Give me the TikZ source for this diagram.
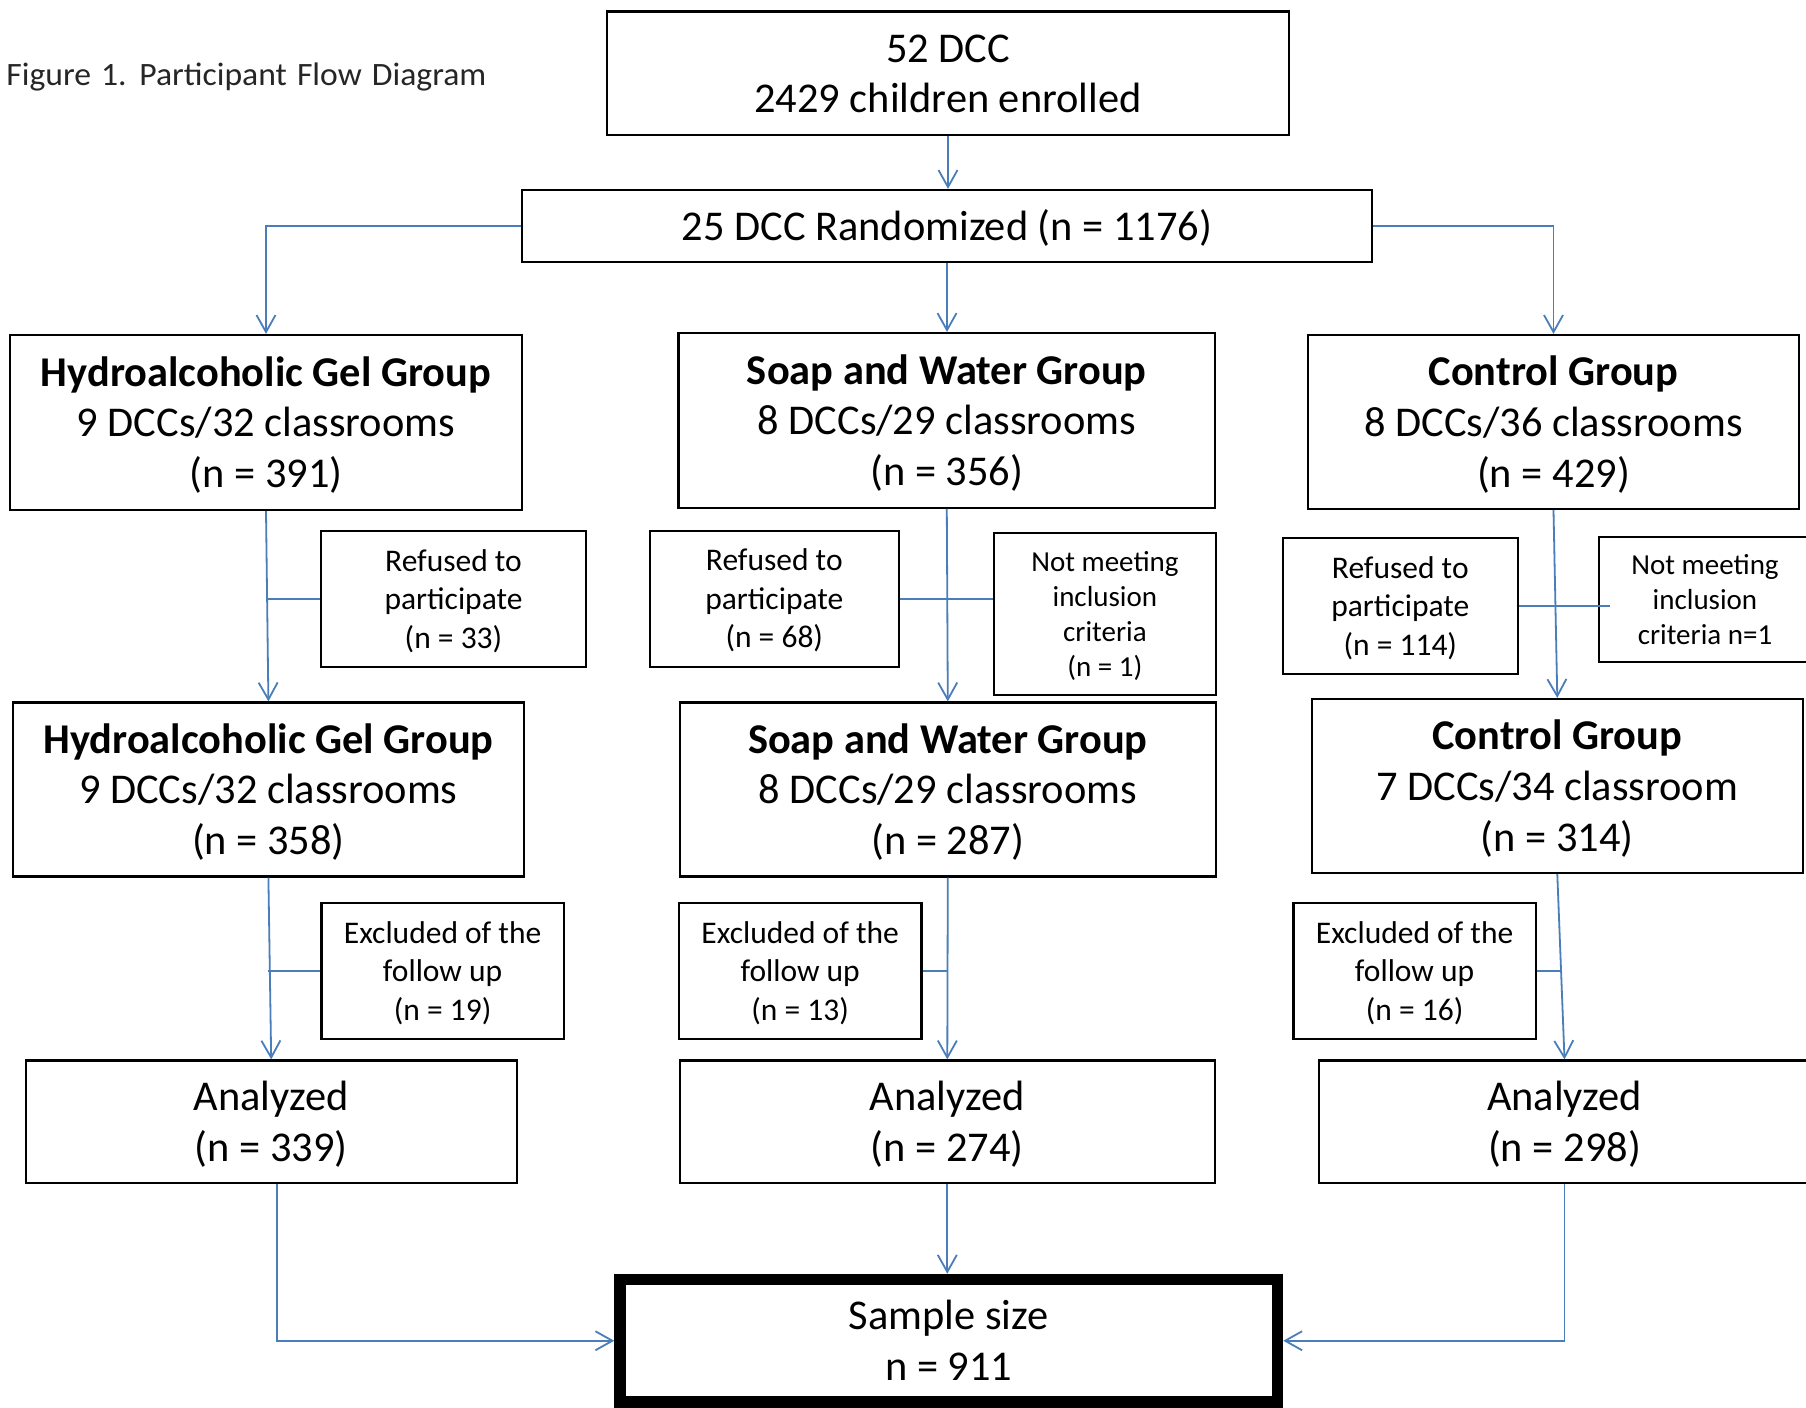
\documentclass[tikz,border=0pt]{standalone}
\usepackage{fontspec}
\setmainfont{Carlito}
\usetikzlibrary{arrows.meta,calc}
\definecolor{lineblue}{HTML}{4A7EBB}
\newcommand\mainf{\fontsize{21.2pt}{25.4pt}\selectfont}
\newcommand\sidef{\fontsize{15.75pt}{19.25pt}\selectfont}
\newcommand\nmf{\fontsize{14.5pt}{17.5pt}\selectfont}
\newcommand\titf{\fontsize{16.3pt}{19pt}\selectfont}
\newcommand\tst{\rule{0pt}{0.952em}}
\newcommand\bst{\rule[-0.269em]{0pt}{0.269em}}
\begin{document}
\begin{tikzpicture}[x=0.5pt,y=-0.5pt,
  box/.style={draw=black,line width=1.1pt,inner sep=0pt,align=center,font=\mainf},
  sidebox/.style={box,font=\sidef},
  nmbox/.style={box,font=\nmf},
  conn/.style={draw=lineblue,line width=0.9pt},
  arr/.style={conn,-{Straight Barb[length=8.5pt,width=9.5pt]}}]
\useasboundingbox (0,0) rectangle (1806,1408);
\clip (0,0) rectangle (1806,1408);
\fill[white] (0,0) rectangle (1806,1408);

\node[anchor=base west,inner sep=0pt,font=\titf,text=black!85] (title) at (6,85) {\resizebox{240pt}{\height}{\spaceskip=0.3em Figure 1. Participant Flow Diagram}};

\node[box,minimum width=341pt,minimum height=61.6pt] (top) at (948,73) {\tst 52 DCC\\2429 children enrolled\bst};
\node[box,minimum width=425pt,minimum height=36pt] (rand) at (947,226) {\tst 25 DCC Randomized (n = 1176)\bst};

\node[box,minimum width=256pt,minimum height=87.5pt] (hyd1) at (266,422.5) {\tst\textbf{Hydroalcoholic Gel Group}\\9 DCCs/32 classrooms\\(n = 391)\bst};
\node[box,minimum width=268.25pt,minimum height=87.35pt] (soap1) at (946.8,420.4) {\tst\textbf{Soap and Water Group}\\8 DCCs/29 classrooms\\(n = 356)\bst};
\node[box,minimum width=245.5pt,minimum height=87pt] (ctl1) at (1553.5,422) {\tst\textbf{Control Group}\\8 DCCs/36 classrooms\\(n = 429)\bst};

\node[sidebox,minimum width=132.5pt,minimum height=68pt] (ref1) at (453.5,599) {\tst Refused to\\participate\\(n = 33)\bst};
\node[sidebox,minimum width=124.5pt,minimum height=68pt] (ref2) at (774.3,598.7) {\tst Refused to\\participate\\(n = 68)\bst};
\node[nmbox,minimum width=111.15pt,minimum height=81pt] (nm1) at (1104.9,614) {\tst Not meeting\\inclusion\\criteria\\(n = 1)\bst};
\node[sidebox,minimum width=117.7pt,minimum height=68pt] (ref3) at (1400.3,606) {\tst Refused to\\participate\\(n = 114)\bst};
\node[nmbox,minimum width=106pt,minimum height=62.65pt] (nm2) at (1705,599.4) {\tst Not meeting\\inclusion\\criteria n=1\bst};

\node[box,minimum width=255.65pt,minimum height=87pt] (hyd2) at (268.4,789.5) {\tst\textbf{Hydroalcoholic Gel Group}\\9 DCCs/32 classrooms\\(n = 358)\bst};
\node[box,minimum width=268.2pt,minimum height=87pt] (soap2) at (947.8,789.5) {\tst\textbf{Soap and Water Group}\\8 DCCs/29 classrooms\\(n = 287)\bst};
\node[box,minimum width=245.3pt,minimum height=87pt] (ctl2) at (1557.3,786) {\tst\textbf{Control Group}\\7 DCCs/34 classroom\\(n = 314)\bst};

\node[sidebox,minimum width=121.1pt,minimum height=67.9pt] (ex1) at (442.6,970.9) {\tst Excluded of the\\follow up\\(n = 19)\bst};
\node[sidebox,minimum width=121.2pt,minimum height=67.9pt] (ex2) at (800.2,970.9) {\tst Excluded of the\\follow up\\(n = 13)\bst};
\node[sidebox,minimum width=121.05pt,minimum height=67.9pt] (ex3) at (1414.6,970.9) {\tst Excluded of the\\follow up\\(n = 16)\bst};

\node[box,minimum width=245.4pt,minimum height=61.25pt] (an1) at (271.2,1121.75) {\tst Analyzed\\(n = 339)\bst};
\node[box,minimum width=267.7pt,minimum height=61.25pt] (an2) at (947.3,1121.75) {\tst Analyzed\\(n = 274)\bst};
\node[box,minimum width=245.5pt,minimum height=61.25pt] (an3) at (1564.5,1121.75) {\tst Analyzed\\(n = 298)\bst};

\node[box,line width=5.75pt,minimum width=328.75pt,minimum height=61.25pt] (samp) at (948.75,1340.75) {\tst Sample size\\n = 911\bst};

\draw[arr] (top.south) -- (top.south |- rand.north);
\draw[arr] (rand.west) -| (hyd1.north);
\draw[arr] (rand.east) -| (ctl1.north);
\draw[arr] (rand.south) -- (rand.south |- soap1.north);

\draw[arr] (hyd1.south) -- (hyd2.north);
\draw[conn] (ref1.west) -- (ref1.west -| hyd1.south);
\draw[arr] (soap1.south) -- (soap2.north);
\draw[conn] (ref2.east) -- (ref2.east -| nm1.west);
\draw[arr] (ctl1.south) -- (ctl2.north);
\draw[conn] (ref3.east) -- ([xshift=6pt]ref3.east -| nm2.west);

\coordinate (cm) at ($(ctl2.south)!0.5!(an3.north)$);
\draw[arr] (hyd2.south) -- (an1.north);
\draw[conn] (ex1.west) -- (ex1.west -| hyd2.south);
\draw[arr] (soap2.south) -- (an2.north);
\draw[conn] (ex2.east) -- (ex2.east -| soap2.south);
\draw[arr] (ctl2.south) -- (an3.north);
\draw[conn] (ex3.east) -- (ex3.east -| cm);

\draw[arr] ([xshift=2.75pt]an1.south) |- (samp.west);
\draw[arr] (an3.south) |- (samp.east);
\draw[arr] (an2.south) -- (an2.south |- samp.north);
\end{tikzpicture}
\end{document}
